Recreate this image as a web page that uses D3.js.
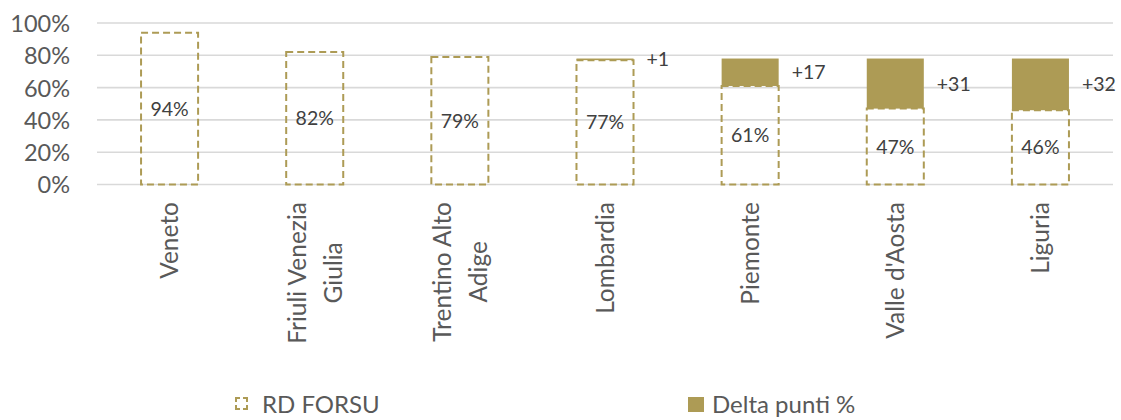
<!DOCTYPE html>
<html>
<head>
<meta charset="utf-8">
<script src="https://cdn.jsdelivr.net/npm/d3@7"></script>
<style>
  html, body { margin: 0; padding: 0; background: #fff; }
  svg { display: block; font-family: Lato, "Open Sans", sans-serif; }
</style>
</head>
<body>
<svg id="chart" width="1121" height="420"></svg>
<script>
// Regioni e percentuali di raccolta differenziata FORSU
const regions = ["Veneto", "Friuli Venezia|Giulia", "Trentino Alto|Adige", "Lombardia", "Piemonte", "Valle d'Aosta", "Liguria"];
const rdForsu = [94, 82, 79, 77, 61, 47, 46];
const deltaPunti = [null, null, null, 1, 17, 31, 32];
const yTicks = [0, 20, 40, 60, 80, 100];
const seriesNames = ["RD FORSU", "Delta punti %"];

const gold = "#AD9B55";
const svg = d3.select("#chart");

const x = d3.scaleBand()
  .domain(regions)
  .range([97, 1113])
  .paddingInner(0.607)
  .paddingOuter(0.3035);

const y = d3.scaleLinear().domain([0, 100]).range([184.5, 23]);

// griglia orizzontale
svg.append("g")
  .selectAll("line")
  .data(yTicks)
  .join("line")
  .attr("x1", 97).attr("x2", 1113)
  .attr("y1", d => y(d)).attr("y2", d => y(d))
  .attr("stroke", "#D9D9D9")
  .attr("stroke-width", 1.6);

// asse Y
const yAxis = svg.append("g")
  .attr("transform", "translate(70,0)")
  .call(d3.axisLeft(y).tickValues(yTicks).tickFormat(d => d + "%").tickSize(0).tickPadding(0));
yAxis.select(".domain").remove();
yAxis.selectAll("text")
  .attr("fill", "#595959")
  .style("font-size", "23.5px")
  .style("font-family", "Lato, sans-serif")
  .attr("dy", "0.36em");

// barre tratteggiate RD FORSU
svg.append("g")
  .selectAll("rect")
  .data(regions)
  .join("rect")
  .attr("x", d => x(d))
  .attr("width", x.bandwidth())
  .attr("y", (d, i) => y(rdForsu[i]))
  .attr("height", (d, i) => y(0) - y(rdForsu[i]))
  .attr("fill", "none")
  .attr("stroke", gold)
  .attr("stroke-width", 2)
  .attr("stroke-dasharray", "7,4");

// barre piene Delta punti
const deltaIdx = regions.map((d, i) => i).filter(i => deltaPunti[i] != null);
svg.append("g")
  .selectAll("rect")
  .data(deltaIdx)
  .join("rect")
  .attr("x", i => x(regions[i]))
  .attr("width", x.bandwidth())
  .attr("y", i => y(rdForsu[i] + deltaPunti[i]))
  .attr("height", i => y(rdForsu[i]) - y(rdForsu[i] + deltaPunti[i]))
  .attr("fill", gold);

// etichette valori RD FORSU
svg.append("g")
  .selectAll("text")
  .data(regions)
  .join("text")
  .attr("x", d => x(d) + x.bandwidth() / 2)
  .attr("y", (d, i) => y(rdForsu[i] / 2))
  .attr("dy", "0.36em")
  .attr("text-anchor", "middle")
  .attr("fill", "#404040")
  .style("font-size", "19.5px")
  .text((d, i) => rdForsu[i] + "%");

// etichette Delta
svg.append("g")
  .selectAll("text")
  .data(deltaIdx)
  .join("text")
  .attr("x", i => x(regions[i]) + x.bandwidth() + 13)
  .attr("y", i => y(rdForsu[i] + deltaPunti[i] / 2))
  .attr("dy", "0.36em")
  .attr("fill", "#404040")
  .style("font-size", "19.5px")
  .text(i => "+" + deltaPunti[i]);

// etichette categorie ruotate
const lineGap = 36;
const cat = svg.append("g")
  .selectAll("text")
  .data(regions)
  .join("text")
  .attr("transform", d => `translate(${x(d) + x.bandwidth() / 2},202) rotate(-90)`)
  .attr("text-anchor", "end")
  .attr("fill", "#595959")
  .style("font-size", "24.5px");
cat.each(function (d) {
  const lines = d.split("|");
  const t = d3.select(this);
  const n = lines.length;
  lines.forEach((ln, k) => {
    t.append("tspan")
      .attr("x", 0)
      .attr("y", (k - (n - 1) / 2) * lineGap)
      .attr("dy", "0.36em")
      .text(ln);
  });
});
// centra le righe più corte rispetto alla più lunga
cat.each(function () {
  const spans = d3.select(this).selectAll("tspan").nodes();
  if (spans.length < 2) return;
  const lens = spans.map(s => s.getComputedTextLength());
  const maxLen = Math.max(...lens);
  spans.forEach((s, k) => {
    d3.select(s).attr("x", -(maxLen - lens[k]) / 2);
  });
});

// legenda
const legend = svg.append("g");
const side = 11, corner = 4;
legend.append("rect")
  .attr("x", 236).attr("y", 398).attr("width", side).attr("height", side)
  .attr("fill", "none").attr("stroke", gold).attr("stroke-width", 2)
  .attr("stroke-dasharray", `${2 * corner},${side - 2 * corner}`)
  .attr("stroke-dashoffset", corner);
legend.append("text")
  .attr("x", 262).attr("y", 404).attr("dy", "0.36em")
  .attr("fill", "#595959").style("font-size", "24px")
  .text(seriesNames[0]);
legend.append("rect")
  .attr("x", 688).attr("y", 397).attr("width", 16).attr("height", 15)
  .attr("fill", gold);
legend.append("text")
  .attr("x", 712).attr("y", 404).attr("dy", "0.36em")
  .attr("fill", "#595959").style("font-size", "24px")
  .text(seriesNames[1]);
</script>
</body>
</html>
